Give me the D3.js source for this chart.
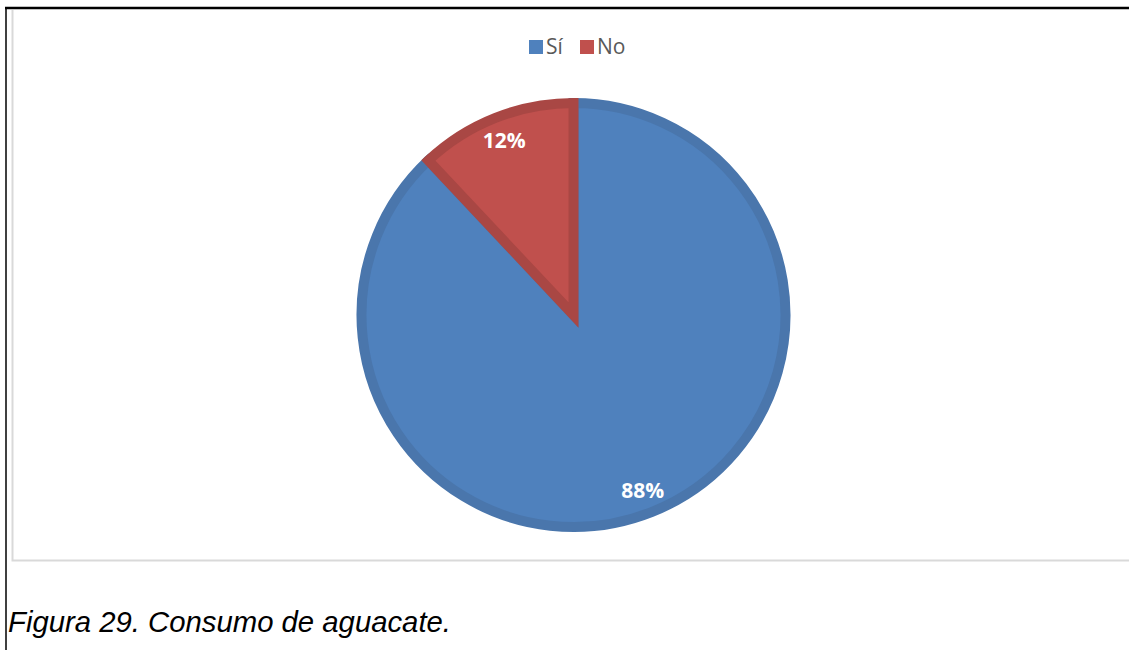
<!DOCTYPE html>
<html><head><meta charset="utf-8">
<script src="https://cdn.jsdelivr.net/npm/d3@7"></script>
<style>body{margin:0;background:#fff}svg{display:block}</style>
</head><body>
<svg id="c" width="1129" height="650"></svg>
<script>
const categories = ["Sí", "No"];
const values = [88, 12];
const labels = ["88%", "12%"];
const fills = ["#4F81BD", "#C0504D"];
const strokes = ["#4A76AC", "#A94744"];

const svg = d3.select("#c");
// outer frame
svg.append("line").attr("x1",5).attr("x2",1129).attr("y1",8).attr("y2",8).attr("stroke","#000").attr("stroke-width",2.5);
svg.append("line").attr("x1",6).attr("x2",6).attr("y1",7).attr("y2",650).attr("stroke","#000").attr("stroke-width",1.5);
// chart area border
svg.append("path").attr("d","M1135,560.5 H12.5 V10").attr("fill","none").attr("stroke","#D9D9D9").attr("stroke-width",2);

const cx = 573.5, cy = 315, R = 217, sw = 10;
const pie = d3.pie().sort(null).value(d=>d)(values);
const arc = d3.arc().innerRadius(0).outerRadius(R - sw/2);
const g = svg.append("g").attr("transform",`translate(${cx},${cy})`);
g.selectAll("path").data(pie).join("path")
  .attr("d",arc).attr("fill",(d,i)=>fills[i]).attr("stroke",(d,i)=>strokes[i])
  .attr("stroke-width",sw).attr("stroke-linejoin","miter");
const lab = d3.arc().innerRadius(188).outerRadius(188);
g.selectAll("text").data(pie).join("text")
  .attr("transform",d=>`translate(${lab.centroid(d)})`)
  .attr("text-anchor","middle").attr("dominant-baseline","central")
  .attr("font-family","'Open Sans', sans-serif").attr("font-weight","bold").attr("font-size",21)
  .attr("fill","#fff").text((d,i)=>labels[i]);

// legend
const leg = svg.append("g");
const lx = [529, 580];
categories.forEach((c,i)=>{
  leg.append("rect").attr("x",lx[i]).attr("y",40).attr("width",14).attr("height",14).attr("fill",fills[i]);
  leg.append("text").attr("x",lx[i]+17).attr("y",46).attr("dominant-baseline","central")
    .attr("font-family","'Open Sans', sans-serif").attr("font-size",21).attr("fill","#595959").text(c);
});

svg.append("text").attr("x",8).attr("y",632).attr("font-family","'Liberation Sans', Arial, sans-serif")
  .attr("font-style","italic").attr("font-size",29.3).attr("fill","#000").text("Figura 29. Consumo de aguacate.");
</script>
</body></html>
